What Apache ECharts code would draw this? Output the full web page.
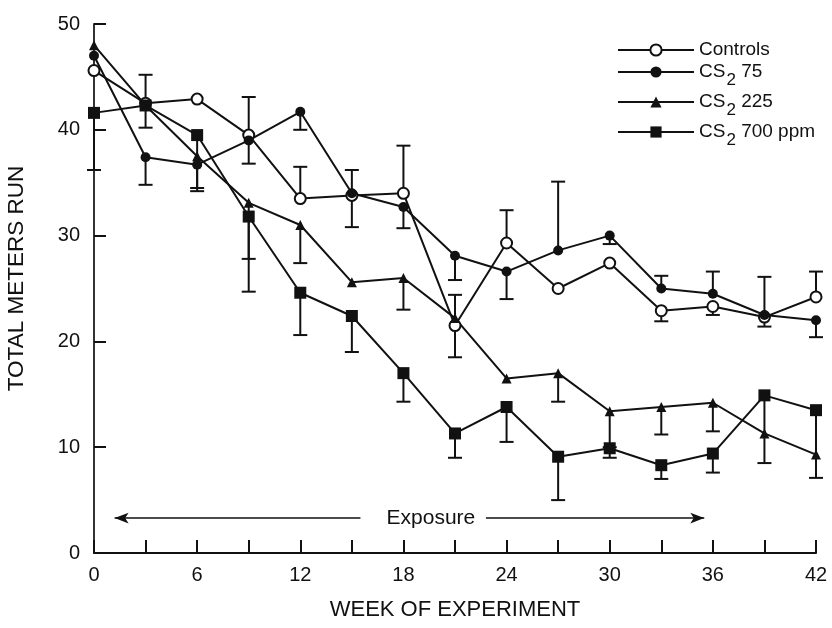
<!DOCTYPE html>
<html>
<head>
<meta charset="utf-8">
<script src="https://cdn.jsdelivr.net/npm/echarts@6/dist/echarts.min.js"></script>
<style>html,body{margin:0;padding:0;background:#fff}#c{width:832px;height:628px}</style>
</head>
<body>
<div id="c"></div>
<script>
// ---- data ----
const weeks = [0, 3, 6, 9, 12, 15, 18, 21, 24, 27, 30, 33, 36, 39, 42];
const seriesNames = ['Controls', 'CS2 75', 'CS2 225', 'CS2 700 ppm'];
const controls = [45.6, 42.5, 42.9, 39.5, 33.5, 33.8, 34.0, 21.5, 29.3, 25.0, 27.4, 22.9, 23.3, 22.3, 24.2];
const cs75     = [47.0, 37.4, 36.7, 39.0, 41.7, 34.0, 32.7, 28.1, 26.6, 28.6, 30.0, 25.0, 24.5, 22.5, 22.0];
const cs225    = [48.0, 42.3, 37.5, 33.1, 31.0, 25.6, 26.0, 22.2, 16.5, 17.0, 13.4, 13.8, 14.2, 11.3, 9.3];
const cs700    = [41.6, 42.3, 39.5, 31.8, 24.6, 22.4, 17.0, 11.3, 13.8, 9.1, 9.9, 8.3, 9.4, 14.9, 13.5];
// error bar end values (null = none drawn)
const controlsHi = [null, 45.2, null, null, 36.5, null, 38.5, null, 32.4, null, null, null, null, 26.1, 26.6];
const controlsLo = [null, null, null, null, null, null, null, 18.5, null, null, null, 21.9, 22.5, 21.4, null];
const cs75Hi     = [null, null, null, 43.1, null, 36.2, null, null, null, 35.1, null, 26.2, 26.6, null, null];
const cs75Lo     = [null, 34.8, 34.2, 36.8, 40.0, 30.8, 30.7, 25.8, 24.0, null, 29.2, null, null, null, 20.4];
const cs225Hi    = [null, null, null, null, null, null, null, 24.4, null, null, null, null, null, null, null];
const cs225Lo    = [null, 40.2, null, 27.8, 27.4, null, 23.0, null, null, 14.3, 10.0, 11.2, 11.5, null, null];
const cs700Lo    = [36.2, null, 34.5, 24.7, 20.6, 19.0, 14.3, 9.0, 10.5, 5.0, 9.0, 7.0, 7.6, 8.5, 7.1];
const cs700Hi    = [null, null, null, null, null, null, null, null, null, null, null, null, null, null, null];
const yTicks = [0, 10, 20, 30, 40, 50];
const xLabelWeeks = [0, 6, 12, 18, 24, 30, 36, 42];
const exposureText = 'Exposure';

const INK = '#111';
const FONT = '"Liberation Sans", Arial, Helvetica, sans-serif';

function pairs(vals) { return weeks.map((w, i) => [w, vals[i]]); }

function errSeries(id, vals, hi, lo) {
  const data = [];
  weeks.forEach((w, i) => {
    if (hi[i] != null) data.push([w, vals[i], hi[i]]);
    if (lo[i] != null) data.push([w, vals[i], lo[i]]);
  });
  return {
    type: 'custom', name: id, silent: true, z: 1,
    data: data,
    encode: { x: 0, y: [1, 2] },
    renderItem: function (params, api) {
      const p0 = api.coord([api.value(0), api.value(1)]);
      const p1 = api.coord([api.value(0), api.value(2)]);
      const cw = 7;
      return {
        type: 'group',
        children: [
          { type: 'line', shape: { x1: p0[0], y1: p0[1], x2: p1[0], y2: p1[1] }, style: { stroke: INK, lineWidth: 2 } },
          { type: 'line', shape: { x1: p1[0] - cw, y1: p1[1], x2: p1[0] + cw, y2: p1[1] }, style: { stroke: INK, lineWidth: 2 } }
        ]
      };
    }
  };
}

function lineSeries(name, vals, symbol, size, extra) {
  return Object.assign({
    type: 'line', name: name, data: pairs(vals),
    symbol: symbol, symbolSize: size, z: 3,
    lineStyle: { color: INK, width: 2 },
    itemStyle: { color: INK, borderColor: INK, borderWidth: symbol === 'emptyCircle' ? 2 : 0 },
    emphasis: { disabled: true },
    animation: false
  }, extra || {});
}

const chart = echarts.init(document.getElementById('c'), null, { renderer: 'canvas' });

const option = {
  animation: false,
  backgroundColor: '#fff',
  textStyle: { fontFamily: FONT, color: INK },
  grid: { left: 94, right: 16, top: 24, bottom: 75, outerBoundsMode: 'none', containLabel: false },
  legend: {
    data: seriesNames,
    orient: 'vertical',
    left: 612, top: 35,
    itemWidth: 76, itemHeight: 14, itemGap: 3,
    selectedMode: false,
    formatter: function (name) {
      if (name.indexOf('CS2') === 0) {
        return '{t|CS}{s|2}{t|' + name.slice(3) + '}';
      }
      return '{t|' + name + '}';
    },
    textStyle: {
      fontFamily: FONT, color: INK, fontSize: 19,
      rich: {
        t: { fontFamily: FONT, color: INK, fontSize: 19, lineHeight: 20, verticalAlign: 'top' },
        s: { fontFamily: FONT, color: INK, fontSize: 17, lineHeight: 16, padding: [10, 0, 0, 1], verticalAlign: 'top' }
      }
    }
  },
  xAxis: {
    type: 'value', min: 0, max: 42, interval: 3,
    name: 'WEEK OF EXPERIMENT', nameLocation: 'middle', nameGap: 46,
    nameTextStyle: { fontFamily: FONT, fontSize: 22, color: INK },
    axisLine: { lineStyle: { color: INK, width: 2 } },
    axisTick: { inside: true, length: 13, lineStyle: { color: INK, width: 2 } },
    axisLabel: {
      margin: 12, fontSize: 20, color: INK, fontFamily: FONT,
      formatter: function (v) { return xLabelWeeks.indexOf(v) >= 0 ? String(v) : ''; }
    },
    splitLine: { show: false }
  },
  yAxis: {
    type: 'value', min: 0, max: 50, interval: 10,
    name: 'TOTAL METERS RUN', nameLocation: 'middle', nameGap: 66,
    nameTextStyle: { fontFamily: FONT, fontSize: 22.5, color: INK, padding: [0, 0, 0, 20] },
    axisLine: { show: true, lineStyle: { color: '#333', width: 2 } },
    axisTick: { inside: true, length: 12, lineStyle: { color: INK, width: 2 } },
    axisLabel: {
      margin: 14, fontSize: 20, color: INK, fontFamily: FONT,
      formatter: function (v) { return yTicks.indexOf(v) >= 0 ? String(v) : ''; }
    },
    splitLine: { show: false }
  },
  series: [
    errSeries('err-controls', controls, controlsHi, controlsLo),
    errSeries('err-75', cs75, cs75Hi, cs75Lo),
    errSeries('err-225', cs225, cs225Hi, cs225Lo),
    errSeries('err-700', cs700, cs700Hi, cs700Lo),
    lineSeries(seriesNames[0], controls, 'emptyCircle', 11, {
      markLine: {
        silent: true, animation: false,
        symbol: 'arrow', symbolSize: 12,
        lineStyle: { color: INK, width: 1.5, type: 'solid' },
        label: { show: false },
        emphasis: { disabled: true },
        data: [
          [{ coord: [15.5, 3.3], symbol: 'none' }, { coord: [1.2, 3.3], symbol: 'arrow', symbolSize: [8, 14] }],
          [{ coord: [22.8, 3.3], symbol: 'none' }, { coord: [35.5, 3.3], symbol: 'arrow', symbolSize: [8, 14] }]
        ]
      },
      markPoint: {
        silent: true, animation: false,
        symbol: 'circle', symbolSize: 0,
        label: { show: true, position: 'inside', formatter: exposureText, fontSize: 21, color: INK, fontFamily: FONT },
        data: [{ coord: [19.6, 3.3] }]
      }
    }),
    lineSeries(seriesNames[1], cs75, 'circle', 10),
    lineSeries(seriesNames[2], cs225, 'triangle', 10),
    lineSeries(seriesNames[3], cs700, 'rect', 12)
  ]
};
chart.setOption(option);
</script>
</body>
</html>
